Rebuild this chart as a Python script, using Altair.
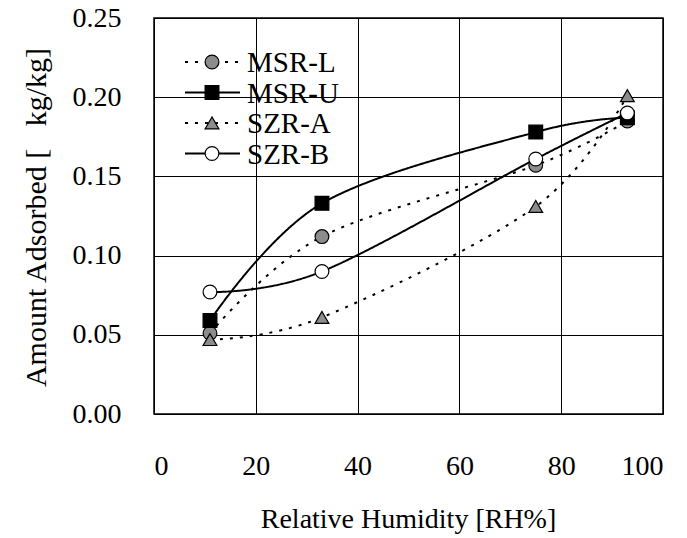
import altair as alt
import pandas as pd

# ---- data ----
series = ["MSR-L", "MSR-U", "SZR-A", "SZR-B"]
rh = [11, 33, 75, 93]
msr_l = [0.051, 0.112, 0.157, 0.185]
msr_u = [0.059, 0.133, 0.178, 0.187]
szr_a = [0.047, 0.061, 0.131, 0.201]
szr_b = [0.077, 0.090, 0.161, 0.190]
x_ticks = [0, 20, 40, 60, 80, 100]
y_ticks = [0.00, 0.05, 0.10, 0.15, 0.20, 0.25]

values = {"MSR-L": msr_l, "MSR-U": msr_u, "SZR-A": szr_a, "SZR-B": szr_b}
rows = []
for s in series:
    for x, y in zip(rh, values[s]):
        rows.append({"series": s, "rh": x, "amount": y})
df = pd.DataFrame(rows)

FONT = "Liberation Serif"
NB = "\u00a0"

dash_scale = alt.Scale(domain=series, range=[[3, 7], [1, 0], [3, 7], [1, 0]])
shape_scale = alt.Scale(domain=series, range=["circle", "square", "triangle-up", "circle"])
fill_scale = alt.Scale(domain=series, range=["#8c8c8c", "#000000", "#8c8c8c", "#ffffff"])

x_enc = alt.X(
    "rh:Q",
    scale=alt.Scale(domain=[0, 100], nice=False),
    axis=alt.Axis(
        values=x_ticks, format="d", title="Relative Humidity [RH%]",
        labelPadding=60, labelBaseline="alphabetic",
        titleX=254, titleY=113, titleBaseline="alphabetic", titleAnchor="middle",
    ),
)
y_enc = alt.Y(
    "amount:Q",
    scale=alt.Scale(domain=[0, 0.25], nice=False),
    axis=alt.Axis(
        values=y_ticks, format=".2f",
        title="Amount Adsorbed [" + NB * 3 + "kg/kg]",
        labelPadding=33,
        titleX=-118, titleY=199, titleBaseline="middle", titleAngle=-90,
        titleFontSize=30,
    ),
)

lines = alt.Chart(df).mark_line(
    interpolate="cardinal", tension=0, color="black", strokeWidth=2
).encode(
    x=x_enc, y=y_enc,
    detail="series:N",
    strokeDash=alt.StrokeDash("series:N", scale=dash_scale, legend=None),
)

points = alt.Chart(df).mark_point(
    filled=True, size=190, stroke="black", strokeWidth=1.2, opacity=1
).encode(
    x=x_enc, y=y_enc,
    shape=alt.Shape("series:N", scale=shape_scale, legend=None),
    fill=alt.Fill("series:N", scale=fill_scale, legend=None),
)

layers = [lines, points]

# ---- hand-drawn legend (line segment + marker + label), plot-area pixels ----
for i, s in enumerate(series):
    ly = 44 + 30.5 * i
    ldf = pd.DataFrame({"series": [s]})
    layers.append(
        alt.Chart(ldf).mark_rule(color="black", strokeWidth=2).encode(
            x=alt.value(31), x2=alt.value(86), y=alt.value(ly),
            strokeDash=alt.StrokeDash("series:N", scale=dash_scale, legend=None),
        )
    )
    layers.append(
        alt.Chart(ldf).mark_point(
            filled=True, size=190, stroke="black", strokeWidth=1.2, opacity=1
        ).encode(
            x=alt.value(58), y=alt.value(ly),
            shape=alt.Shape("series:N", scale=shape_scale, legend=None),
            fill=alt.Fill("series:N", scale=fill_scale, legend=None),
        )
    )
    layers.append(
        alt.Chart(ldf).mark_text(
            align="left", baseline="middle", font=FONT, fontSize=29, color="black"
        ).encode(
            x=alt.value(93), y=alt.value(ly + 1), text="series:N"
        )
    )

chart = alt.layer(*layers).properties(
    width=509, height=396,
    autosize=alt.AutoSizeParams(type="none"),
    padding={"left": 154, "top": 18, "right": 24, "bottom": 124},
    background="white",
).configure_view(
    stroke="black", strokeWidth=1.5
).configure_axis(
    domain=False, ticks=False, tickSize=0,
    grid=True, gridColor="black", gridWidth=1, gridOpacity=1,
    labelFont=FONT, labelFontSize=28, labelColor="black",
    titleFont=FONT, titleFontSize=28, titleFontWeight="normal", titleColor="black",
)

chart.save("out.html", embed_options={"renderer": "svg", "actions": False})
